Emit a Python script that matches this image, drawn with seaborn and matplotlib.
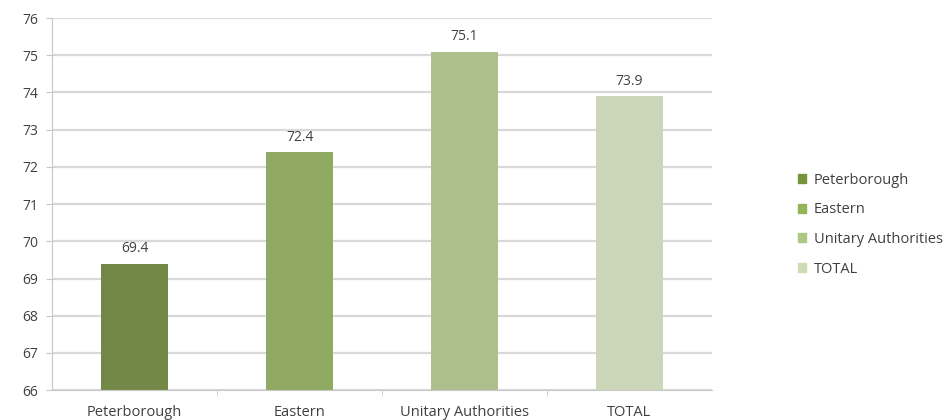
import matplotlib
matplotlib.use("Agg")
import matplotlib.pyplot as plt
import seaborn as sns
import pandas as pd

# values
areas = ["Peterborough", "Eastern", "Unitary Authorities", "TOTAL"]
values = [69.4, 72.4, 75.1, 73.9]
bar_colors = ["#77933C", "#93B557", "#AFC784", "#CDDCB4"]

df = pd.DataFrame({"area": areas, "value": values})

sns.set_style("white")
plt.rcParams["font.family"] = ["Open Sans", "DejaVu Sans"]

fig = plt.figure(figsize=(9.48, 4.2), dpi=100)
ax = fig.add_axes([0.055, 0.071, 0.696, 0.886])

sns.barplot(data=df, x="area", y="value", hue="area", palette=bar_colors,
            width=0.41, dodge=False, legend=False, ax=ax, edgecolor="none")
ax.set_ylim(66, 76)
ax.set_yticks(range(66, 77))
ax.yaxis.grid(True, color="#d9d9d9", linewidth=1.6)
ax.set_axisbelow(True)

for i, v in enumerate(values):
    ax.text(i, v + 0.2, f"{v:.1f}", ha="center", va="bottom",
            fontsize=10, color="#404040")

for side in ["top", "right"]:
    ax.spines[side].set_visible(False)
ax.spines["left"].set_color("#c8c8c8")
ax.spines["bottom"].set_color("#c8c8c8")
ax.tick_params(axis="y", length=4, color="#c8c8c8", labelsize=10,
               labelcolor="#404040", pad=6, left=True)
ax.tick_params(axis="x", which="major", length=0, labelsize=10.5,
               labelcolor="#404040", pad=11)
# small tick marks between the categories
ax.set_xticks([0.5, 1.5, 2.5], minor=True)
ax.tick_params(axis="x", which="minor", length=4, color="#c8c8c8",
               bottom=True)
ax.set_xlabel("")
ax.set_ylabel("")

handles = [plt.Rectangle((0, 0), 1, 1, color=c) for c in bar_colors]
fig.legend(handles, areas, loc="center left", bbox_to_anchor=(0.828, 0.465),
           frameon=False, fontsize=10.5, handlelength=0.55, handleheight=0.55,
           handletextpad=0.55, labelspacing=1.0, labelcolor="#404040")

fig.savefig("out.png", dpi=100)
